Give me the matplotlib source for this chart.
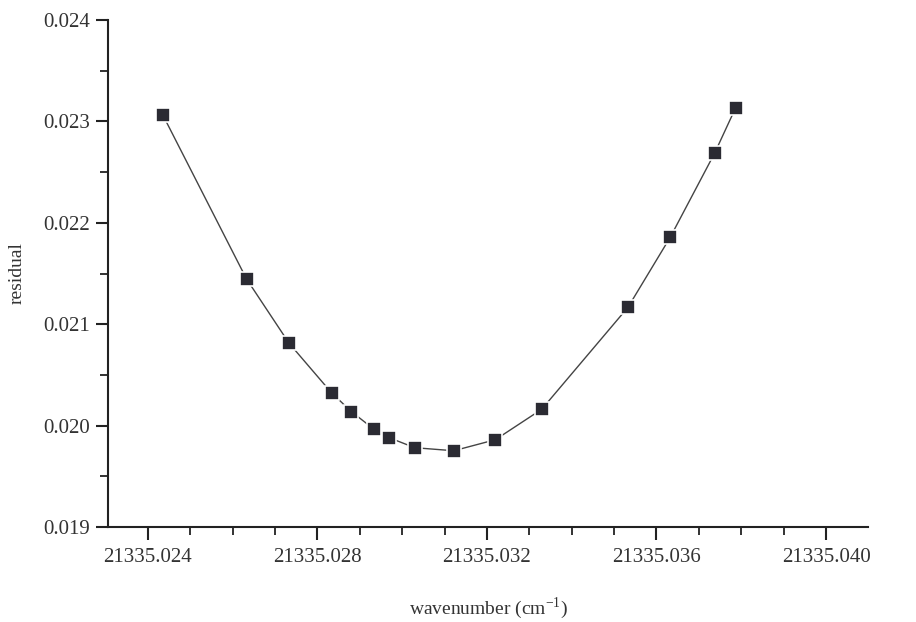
import matplotlib
matplotlib.use("Agg")
import matplotlib.pyplot as plt
from matplotlib.ticker import MultipleLocator, FormatStrFormatter

wavenumber = [21335.024354, 21335.026328, 21335.027333, 21335.028333, 21335.028804,
              21335.029330, 21335.029691, 21335.030297, 21335.031217, 21335.032200,
              21335.033292, 21335.035328, 21335.036328, 21335.037373, 21335.037868]
residual = [0.023063, 0.021446, 0.020812, 0.020324, 0.020137,
            0.019966, 0.019881, 0.019782, 0.019752, 0.019861,
            0.020161, 0.021167, 0.021860, 0.022688, 0.023135]

x_major_ticks = [21335.024, 21335.028, 21335.032, 21335.036, 21335.040]
y_major_ticks = [0.019, 0.020, 0.021, 0.022, 0.023, 0.024]

plt.rcParams['font.family'] = ['Liberation Serif', 'DejaVu Serif']
plt.rcParams['mathtext.fontset'] = 'custom'
plt.rcParams['mathtext.rm'] = 'Liberation Serif'

fig = plt.figure(figsize=(9.16, 6.22), dpi=100)
ax = fig.add_axes([108/916, 1-527/622, (868-108)/916, (527-20)/622])

ax.plot(wavenumber, residual, color='#444444', lw=1.0, marker='s', ms=10,
        markerfacecolor='#2b2b33', markeredgecolor='white', markeredgewidth=1.2)

ax.set_xlim(21335.02306, 21335.04099)
ax.set_ylim(0.019, 0.024)

ax.set_xticks(x_major_ticks)
ax.xaxis.set_minor_locator(MultipleLocator(0.001))
ax.set_yticks(y_major_ticks)
ax.yaxis.set_minor_locator(MultipleLocator(0.0005))
ax.xaxis.set_major_formatter(FormatStrFormatter('%.3f'))
ax.yaxis.set_major_formatter(FormatStrFormatter('%.3f'))

for s in ['top', 'right']:
    ax.spines[s].set_visible(False)
for s in ['left', 'bottom']:
    ax.spines[s].set_linewidth(1.5)
    ax.spines[s].set_color('#222222')

ax.tick_params(axis='both', which='major', direction='out', length=9, width=1.5,
               color='#222222', labelsize=15, labelcolor='#333333')
ax.tick_params(axis='both', which='minor', direction='out', length=6, width=1.3, color='#222222')
ax.tick_params(axis='x', which='major', pad=6)
ax.tick_params(axis='y', which='major', pad=4)

ax.set_xlabel('wavenumber (cm$^{\\mathrm{-1}}$)', fontsize=14, color='#333333')
ax.xaxis.set_label_coords(0.5, -0.135)
ax.set_ylabel('residual', fontsize=14, color='#333333')
ax.yaxis.set_label_coords(-0.108, 0.5)

fig.savefig('out.png', dpi=100)
